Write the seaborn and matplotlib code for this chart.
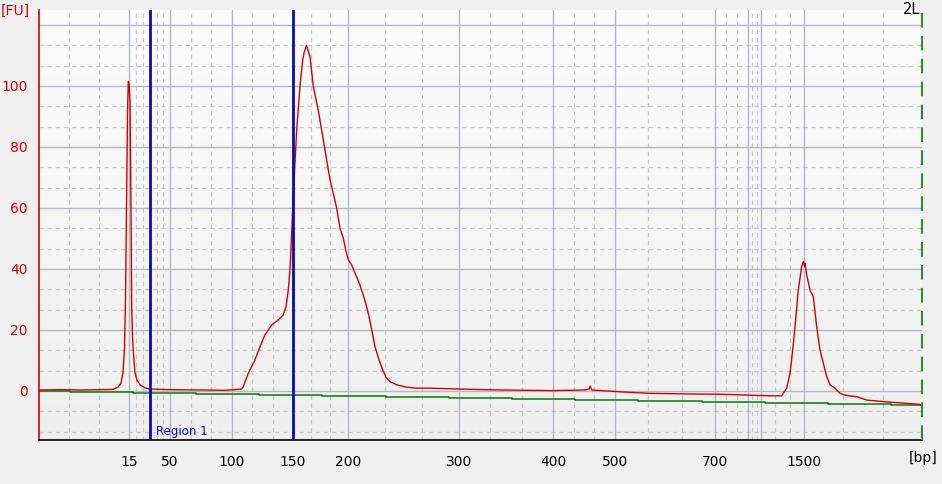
"""
Bioanalyzer DNA 1000 electropherogram (sample 2L) redrawn with seaborn.
"""

import matplotlib
matplotlib.use("Agg")
import matplotlib.pyplot as plt
import numpy as np
import pandas as pd
import seaborn as sns

# ladder (bp) and its migration time (s)
LADDER_BP = [15, 25, 50, 100, 150, 200, 300, 400, 500, 700, 850, 1000, 1500]
LADDER_TIME = [29.0, 31.1, 33.1, 39.3, 45.4, 50.9, 62.0, 71.4, 77.6, 87.6, 90.9, 92.2, 96.5]
LADDER_LABELS = ["15", "", "50", "100", "150", "200", "300", "400", "500", "700", "", "", "1500"]
TIME_RANGE = (20.0, 108.3)
FU_RANGE = (-16.1, 124.9)
FU_TICKS = [0, 20, 40, 60, 80, 100, 120]
FU_LABELS = ["0", "20", "40", "60", "80", "100", ""]

SAMPLE = "2L"
REGION_NAME = "Region 1"
REGION_BP = (25, 150)

# sample trace
TRACE_TIME = [
    20.0, 22.1, 24.1, 26.1, 27.4, 27.9, 28.2, 28.4, 28.55, 28.65, 28.75, 28.85, 28.93, 29.0,
    29.1, 29.2, 29.27, 29.35, 29.45, 29.6, 29.8, 30.1, 30.6, 31.1, 33.1, 36.1, 38.6, 40.27,
    40.43, 40.93, 41.6, 42.1, 42.6, 43.27, 43.93, 44.43, 44.7, 44.93, 45.1, 45.2, 45.4, 45.6,
    45.77, 46.1, 46.37, 46.5, 46.75, 47.1, 47.43, 47.93, 48.43, 48.6, 49.1, 49.43, 49.77,
    50.1, 50.43, 50.67, 50.93, 51.27, 51.6, 52.03, 52.37, 52.67, 53.0, 53.27, 53.6, 54.0,
    54.37, 54.7, 55.1, 55.77, 56.77, 57.77, 59.1, 62.1, 66.1, 71.4, 74.6, 75.0, 75.1, 75.3,
    78.1, 81.1, 85.1, 88.1, 91.1, 93.1, 94.27, 94.77, 95.1, 95.37, 95.6, 95.93, 96.27, 96.43,
    96.55, 96.6, 96.77, 97.1, 97.43, 97.77, 98.1, 98.43, 98.77, 99.1, 99.6, 100.1, 100.77,
    101.77, 102.77, 105.1, 108.1,
]
TRACE_FU = [
    0.3, 0.4, 0.3, 0.4, 0.5, 1.2, 2.5, 6, 14, 30, 60, 91, 101.5, 101,
    95, 60, 27, 18, 12, 6, 3.5, 2, 1, 0.6, 0.4, 0.3, 0.2, 0.6,
    1.4, 5.8, 10.2, 14.5, 18.4, 21.6, 23.3, 24.9, 27.6, 33.1, 39.7, 46.8, 62, 74.8,
    85.6, 100, 108.5, 110.8, 113.3, 109.6, 99.8, 92, 82.3, 79, 69.2, 64.8, 59.9,
    53.3, 50.1, 46.2, 43, 41.3, 38.6, 35.3, 32, 28.8, 24.4, 20, 14.5, 10.2,
    6.9, 4.4, 3.0, 2.0, 1.2, 0.9, 0.9, 0.6, 0.3, 0.1, 0.3, 0.6, 1.6, 0.3,
    -0.3, -0.8, -1.0, -1.1, -1.4, -1.6, -1.6, 0.9, 5.8, 13.4, 21, 33.1, 40.8, 42.4,
    41.0, 41.9, 38, 33.1, 30.9, 21, 13.4, 9.1, 4.7, 2.0, 0.9, -0.8, -1.5,
    -1.9, -3.0, -3.7, -4.4,
]

# baseline (stepwise)
BASE_TIME = [20.0, 23.1, 29.4, 35.7, 42.0, 48.3, 54.7, 61.0, 67.3, 73.6, 79.9, 86.3, 92.6,
             98.9, 105.2, 108.3]
BASE_FU = [0.1, -0.3, -0.6, -0.95, -1.3, -1.65, -2.0, -2.35, -2.7, -3.05, -3.4, -3.7, -4.0,
           -4.35, -4.6, -4.6]

RED = "#d40000"
BLUE = "#0a0ab8"
GREEN = "#0b7a0b"
EDGE_GREEN = "#2a8f2a"
MAJOR_GRID = "#b3b8c6"
MINOR_GRID = "#c8c8c8"


def thirds(edges):
    out = []
    for a, b in zip(edges[:-1], edges[1:]):
        out += [a + (b - a) / 3, a + 2 * (b - a) / 3]
    return out


if __name__ == "__main__":
    sns.set_style("white")
    plt.rcParams["font.family"] = ["DejaVu Sans"]

    fig = plt.figure(figsize=(9.42, 4.84), dpi=100, facecolor="#f0f0f0")
    ax = fig.add_axes([39 / 942, 1 - 440 / 484, 883 / 942, 430 / 484])
    ax.set_facecolor("none")

    # light vertical gradient behind the plot
    grad = np.linspace(0, 1, 256).reshape(-1, 1)
    ax.imshow(grad, extent=[0, 1, 0, 1], transform=ax.transAxes, aspect="auto",
              cmap=matplotlib.colors.LinearSegmentedColormap.from_list("bg", ["#fcfcfc", "#efefef"]),
              origin="upper", zorder=-10)

    ax.set_xlim(*TIME_RANGE)
    ax.set_ylim(*FU_RANGE)

    # grid
    for t in thirds([TIME_RANGE[0]] + LADDER_TIME + [TIME_RANGE[1]]):
        ax.axvline(t, color=MINOR_GRID, lw=0.9, ls=(0, (3.5, 3)), zorder=0)
    for t in LADDER_TIME:
        ax.axvline(t, color=MAJOR_GRID, lw=1.0, zorder=0.5)
    for v in thirds([-20] + FU_TICKS):
        if FU_RANGE[0] < v < FU_RANGE[1]:
            ax.axhline(v, color=MINOR_GRID, lw=0.9, ls=(0, (3.5, 3)), zorder=0)
    for v in FU_TICKS:
        ax.axhline(v, color=MAJOR_GRID, lw=1.0, zorder=0.5)

    base = pd.DataFrame({"time": BASE_TIME, "fu": BASE_FU})
    trace = pd.DataFrame({"time": TRACE_TIME, "fu": TRACE_FU})
    sns.lineplot(data=base, x="time", y="fu", ax=ax, color=GREEN, lw=1.1,
                 drawstyle="steps-post", estimator=None, sort=False, zorder=2)
    sns.lineplot(data=trace, x="time", y="fu", ax=ax, color=RED, lw=1.0,
                 estimator=None, sort=False, zorder=3)

    # region markers
    t_lo = LADDER_TIME[LADDER_BP.index(REGION_BP[0])]
    t_hi = LADDER_TIME[LADDER_BP.index(REGION_BP[1])]
    for t in (t_lo, t_hi):
        ax.axvline(t, color=BLUE, lw=2.0, zorder=4)
    ax.text(t_lo + 0.6, FU_RANGE[0] + 0.8, REGION_NAME, color=BLUE, fontsize=8.5,
            va="bottom", ha="left", zorder=5)

    # right edge marker
    ax.axvline(TIME_RANGE[1], color=EDGE_GREEN, lw=1.5, ls=(0, (7, 4)), zorder=4, clip_on=False)

    # axes styling
    for s in ("top", "right"):
        ax.spines[s].set_visible(False)
    ax.spines["left"].set_color(RED)
    ax.spines["left"].set_linewidth(1.2)
    ax.spines["bottom"].set_color("black")
    ax.spines["bottom"].set_linewidth(1.2)

    ax.set_xticks(LADDER_TIME)
    ax.set_xticklabels(LADDER_LABELS)
    ax.set_yticks(FU_TICKS)
    ax.set_yticklabels(FU_LABELS)
    ax.tick_params(axis="x", direction="out", length=6, width=1, color="black",
                   labelcolor="black", labelsize=10, pad=5)
    ax.tick_params(axis="y", direction="out", length=6, width=1, color=RED,
                   labelcolor=RED, labelsize=10, pad=2)
    ax.set_xlabel("")
    ax.set_ylabel("")

    fig.text(1 / 942, 1 - 4 / 484, "[FU]", color=RED, fontsize=10, va="top", ha="left")
    fig.text(938 / 942, 1 - 458 / 484, "[bp]", color="black", fontsize=10, va="center", ha="right")
    fig.text(920 / 942, 1 - 2 / 484, SAMPLE, color="black", fontsize=10.5, va="top", ha="right")

    plt.savefig("out.png", dpi=100, facecolor=fig.get_facecolor())
    plt.close()
